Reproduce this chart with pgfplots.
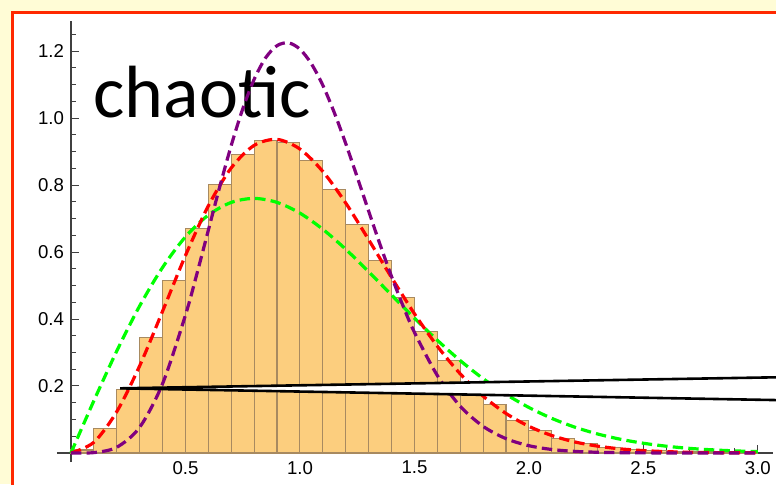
\documentclass[border=0pt]{standalone}
\usepackage{pgfplots}
\pgfplotsset{compat=1.18}
\usepackage{fontspec}
\setmainfont{Liberation Sans}
\newfontfamily\calfont{Carlito}
\definecolor{bg}{RGB}{255,252,214}
\definecolor{frame}{RGB}{255,40,0}
\definecolor{barfill}{RGB}{252,206,126}
\definecolor{baredge}{RGB}{168,138,96}
\definecolor{mgreen}{RGB}{0,255,0}
\definecolor{mred}{RGB}{255,0,0}
\definecolor{mpurple}{RGB}{128,0,128}
\begin{document}
\begin{tikzpicture}
\path[use as bounding box] (-28.5pt,-11pt) rectangle (359.5pt,231pt);
\begin{scope}
\clip (-28.5pt,-11pt) rectangle (359.5pt,231pt);
\fill[bg] (-28.5pt,-11pt) rectangle (359.5pt,231pt);
\filldraw[fill=white, draw=frame, line width=1.5pt] (-22.5pt,-40pt) rectangle (400pt,225pt);
\end{scope}
\begin{axis}[
  at={(0pt,0pt)}, anchor=south west,
  width=358pt, height=220.5pt, scale only axis,
  xmin=-0.061, xmax=3.066, ymin=-0.027, ymax=1.29,
  axis lines=middle,
  every inner x axis line/.append style={-},
  every inner y axis line/.append style={-},
  axis line style={black!75, line width=0.6pt},
  xtick={0.5,1,1.5,2,2.5,3},
  ytick={0.2,0.4,0.6,0.8,1.0,1.2},
  minor xtick={0.1,0.2,0.3,0.4,0.6,0.7,0.8,0.9,1.1,1.2,1.3,1.4,1.6,1.7,1.8,1.9,2.1,2.2,2.3,2.4,2.6,2.7,2.8,2.9},
  minor ytick={0.05,0.1,0.15,0.25,0.3,0.35,0.45,0.5,0.55,0.65,0.7,0.75,0.85,0.9,0.95,1.05,1.1,1.15,1.25},
  tick align=inside,
  major tick length=4pt, minor tick length=2.5pt,
  tick style={black!75, line width=0.5pt},
  /pgf/number format/assume math mode=true,
  xticklabel style={/pgf/number format/.cd, fixed, fixed zerofill, precision=1, /tikz/.cd, font=\fontsize{9.3}{11}\selectfont, yshift=-0.5pt},
  yticklabel style={/pgf/number format/.cd, fixed, fixed zerofill, precision=1, /tikz/.cd, font=\fontsize{9.3}{11}\selectfont},
  clip=false,
]
\addplot[ybar interval, fill=barfill, draw=baredge, line width=0.55pt] coordinates {
(0.0,0.009) (0.1,0.074) (0.2,0.190) (0.3,0.345) (0.4,0.514) (0.5,0.671)
(0.6,0.803) (0.7,0.892) (0.8,0.932) (0.9,0.928) (1.0,0.873) (1.1,0.787)
(1.2,0.683) (1.3,0.574) (1.4,0.465) (1.5,0.364) (1.6,0.275) (1.7,0.205)
(1.8,0.145) (1.9,0.098) (2.0,0.066) (2.1,0.042) (2.2,0.029) (2.3,0.017)
(2.4,0.011) (2.5,0.007) (2.6,0.005) (2.7,0.004) (2.8,0.003) (2.9,0.002) (3.0,0.002)};
\node[anchor=base west, font=\calfont\fontsize{37}{40}\selectfont, inner sep=0pt] at (axis cs:0.097,1.003) {chaotic};
\addplot[mgreen, line width=1.6pt, dash pattern=on 5.2pt off 2.6pt, smooth] coordinates {
(0,0) (0.1,0.1559) (0.2,0.3044) (0.3,0.4391) (0.4,0.5541) (0.5,0.6454) (0.6,0.7104) (0.7,0.7483) (0.8,0.7602) (0.9,0.7483) (1.0,0.7162) (1.1,0.6680) (1.2,0.6083) (1.3,0.5415) (1.4,0.4718) (1.5,0.4025) (1.6,0.3366) (1.7,0.2759) (1.8,0.2219) (1.9,0.1752) (2.0,0.1358) (2.1,0.1033) (2.2,0.0772) (2.3,0.0567) (2.4,0.0409) (2.5,0.0290) (2.6,0.0202) (2.7,0.0138) (2.8,0.0093) (2.9,0.0062) (3.0,0.0040)};
\addplot[mred, line width=1.6pt, dash pattern=on 5.2pt off 2.6pt, smooth] coordinates {
(0,0) (0.1,0.0320) (0.2,0.1233) (0.3,0.2602) (0.4,0.4232) (0.5,0.5896) (0.6,0.7380) (0.7,0.8514) (0.8,0.9186) (0.9,0.9364) (1.0,0.9076) (1.1,0.8406) (1.2,0.7464) (1.3,0.6371) (1.4,0.5240) (1.5,0.4158) (1.6,0.3189) (1.7,0.2364) (1.8,0.1697) (1.9,0.1180) (2.0,0.0796) (2.1,0.0521) (2.2,0.0330) (2.3,0.0204) (2.4,0.0122) (2.5,0.0071) (2.6,0.0040) (2.7,0.0022) (2.8,0.0012) (2.9,0.0006) (3.0,0.0003)};
\addplot[mpurple, line width=1.6pt, dash pattern=on 5.2pt off 2.6pt, smooth] coordinates {
(0,0) (0.1,0.0011) (0.2,0.0170) (0.3,0.0766) (0.4,0.2067) (0.5,0.4116) (0.55,0.5351) (0.6,0.6654) (0.65,0.7956) (0.7,0.9185) (0.75,1.0272) (0.8,1.1158) (0.85,1.1800) (0.9,1.2164) (0.95,1.2248) (1.0,1.2059) (1.05,1.1623) (1.1,1.0979) (1.15,1.0164) (1.2,0.9240) (1.25,0.8242) (1.3,0.7224) (1.35,0.6222) (1.4,0.5272) (1.45,0.4397) (1.5,0.3604) (1.6,0.2314) (1.7,0.1396) (1.8,0.0795) (1.9,0.0427) (2.0,0.0217) (2.1,0.0104) (2.2,0.0047) (2.3,0.0021) (2.4,0.0008) (2.5,0.0003) (2.6,0.0001) (2.7,0) (2.8,0) (2.9,0) (3.0,0)};
\addplot[draw=black, fill=white, line width=1.3pt] coordinates {
(0.215,0.193) (3.1,0.2262) (3.1,0.1577)} -- cycle;
\end{axis}
\end{tikzpicture}
\end{document}
